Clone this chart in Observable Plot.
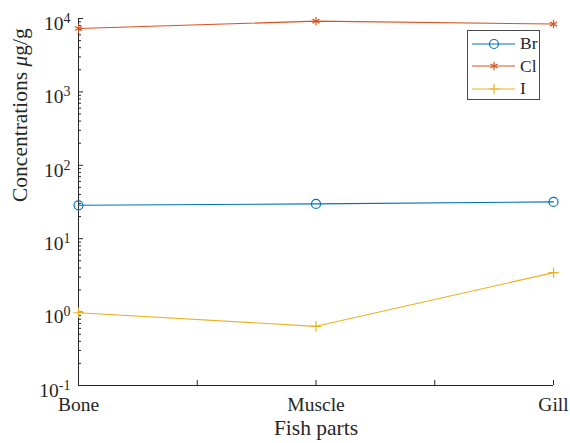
<!DOCTYPE html>
<html>
<head>
<meta charset="utf-8">
<script src="https://cdn.jsdelivr.net/npm/d3@7"></script>
<script src="https://cdn.jsdelivr.net/npm/@observablehq/plot@0.6"></script>
<style>
  html, body { margin: 0; padding: 0; background: #fff; }
  #chart { position: relative; width: 570px; height: 443px; }
  #legend { position: absolute; left: 467px; top: 30px; width: 73px; height: 70px;
    border: 1px solid #4a4a4a; background: #fff; font-family: "Liberation Serif"; font-size: 17.5px; color: #262626;
    box-sizing: border-box; padding-top: 2px; }
  #legend .row { display: flex; align-items: center; height: 22.3px; }
  #legend .row span { margin-left: 2px; line-height: 1; }
</style>
</head>
<body>
<div id="chart"></div>
<script>
// ---- data ----
const parts = ["Bone", "Muscle", "Gill"];
const partPos = [1, 2, 3];
const xTickPos = [1, 1.5, 2, 2.5, 3];
const xTickLabels = ["Bone", "", "Muscle", "", "Gill"];
const brValues = [28.5, 29.8, 31.7];
const clValues = [7300, 9200, 8400];
const iValues = [0.98, 0.64, 3.45];
const seriesNames = ["Br", "Cl", "I"];
const seriesColors = ["#0072BD", "#D95319", "#EDB120"];
const seriesSymbols = ["circle", "asterisk", "plus"];
const yExponents = [-1, 0, 1, 2, 3, 4];
const xLabel = "Fish parts";
const yLabel = "Concentrations μg/g";

// ---- derived ----
const yTicks = yExponents.map(e => Math.pow(10, e));
const yMinor = [];
for (let k = 0; k < yExponents.length - 1; k++) for (let m = 2; m <= 9; m++) yMinor.push(m * yTicks[k]);
const xDomain = [partPos[0], partPos[partPos.length - 1]];
const yDomain = [yTicks[0], yTicks[yTicks.length - 1]];
const values = [brValues, clValues, iValues];
const rows = seriesNames.map((s, si) => parts.map((p, i) => ({series: s, part: p, x: partPos[i], value: values[si][i]})));
const symRadius = {circle: 4.5, asterisk: 3.9, plus: 3.4};

const marks = [
  Plot.ruleX([xDomain[0]], {stroke: "#262626"}),
  Plot.ruleY([yDomain[0]], {stroke: "#262626"}),
  Plot.axisY({ticks: yTicks, tickSize: -5, tickFormat: () => "", label: null, stroke: "#262626"}),
  Plot.axisY({ticks: yMinor, tickSize: -3, tickFormat: () => "", label: null, stroke: "#262626"}),
  Plot.axisY({ticks: yTicks, tickSize: 0, tickPadding: 8, dy: 5, fontSize: 19.5,
    tickFormat: d => "10^" + Math.round(Math.log10(d)), label: null}),
  Plot.axisX({ticks: xTickPos, tickSize: -5, tickFormat: () => "", label: null, stroke: "#262626"}),
  Plot.axisX({ticks: xTickPos, tickSize: 0, tickPadding: 12, fontSize: 19.5,
    tickFormat: d => xTickLabels[xTickPos.indexOf(d)], label: null}),
  Plot.text([xLabel], {frameAnchor: "bottom", dy: 49, fontSize: 21.5, fill: "#262626"}),
  Plot.text([yLabel], {frameAnchor: "left", dx: -58, rotate: -90, fontSize: 21.5, fill: "#262626"})
];
rows.forEach((data, si) => {
  marks.push(Plot.line(data, {x: "x", y: "value", stroke: seriesColors[si], strokeWidth: 1.1}));
  marks.push(Plot.dot(data, {x: "x", y: "value", stroke: seriesColors[si], fill: "none",
    symbol: seriesSymbols[si], r: symRadius[seriesSymbols[si]], strokeWidth: 1.2}));
});

const plot = Plot.plot({
  width: 570,
  height: 443,
  marginLeft: 78,
  marginRight: 17,
  marginTop: 18,
  marginBottom: 58,
  style: {fontFamily: "Liberation Serif", fontSize: "19.5px", color: "#262626", background: "white"},
  x: {type: "linear", domain: xDomain},
  y: {type: "log", domain: yDomain},
  marks
});

// superscripts for y tick labels
const svgns = "http://www.w3.org/2000/svg";
plot.querySelectorAll('g[aria-label="y-axis tick label"] text').forEach(t => {
  const parts2 = t.textContent.split("^");
  if (parts2.length < 2) return;
  t.textContent = parts2[0];
  const ts = document.createElementNS(svgns, "tspan");
  ts.setAttribute("dy", "-7");
  ts.setAttribute("font-size", "14");
  ts.textContent = parts2[1];
  t.appendChild(ts);
});
// italic mu in y label
plot.querySelectorAll("text").forEach(t => {
  if (t.textContent === yLabel) {
    const [a, b] = yLabel.split("μ");
    t.textContent = a;
    const ts = document.createElementNS(svgns, "tspan");
    ts.setAttribute("font-style", "italic");
    ts.textContent = "μ";
    t.appendChild(ts);
    t.appendChild(document.createTextNode(b));
  }
});

const chart = document.getElementById("chart");
chart.appendChild(plot);

// legend
const legend = document.createElement("div");
legend.id = "legend";
const symTypes = {circle: d3.symbolCircle, asterisk: d3.symbolAsterisk, plus: d3.symbolPlus};
seriesNames.forEach((s, si) => {
  const row = document.createElement("div");
  row.className = "row";
  const svg = d3.create("svg").attr("width", 50).attr("height", 22);
  svg.append("line").attr("x1", 4).attr("x2", 47).attr("y1", 11).attr("y2", 11)
    .attr("stroke", seriesColors[si]).attr("stroke-width", 1);
  const r = symRadius[seriesSymbols[si]];
  svg.append("path").attr("transform", "translate(26,11)")
    .attr("d", d3.symbol(symTypes[seriesSymbols[si]], Math.PI * r * r)())
    .attr("fill", "none").attr("stroke", seriesColors[si]).attr("stroke-width", 1.2);
  row.appendChild(svg.node());
  const label = document.createElement("span");
  label.textContent = s;
  row.appendChild(label);
  legend.appendChild(row);
});
chart.appendChild(legend);
</script>
</body>
</html>
